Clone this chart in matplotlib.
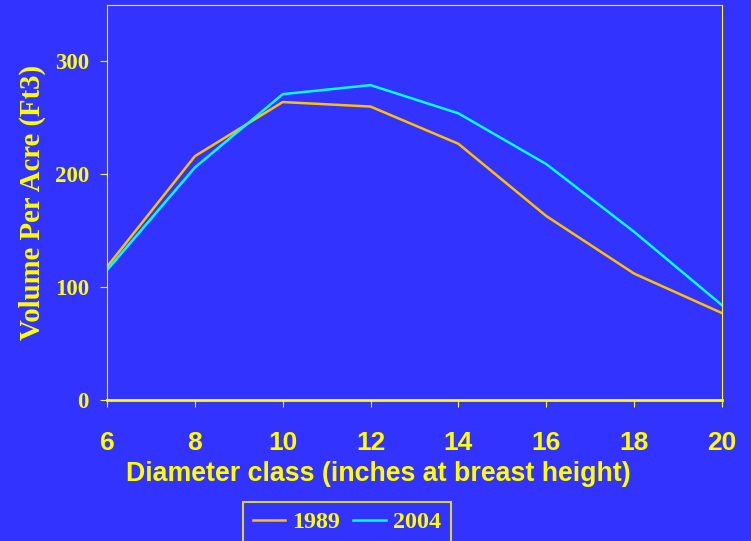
import matplotlib.pyplot as plt

# diameter classes and volume per acre
diam = [6, 8, 10, 12, 14, 16, 18, 20]
vol_1989 = [118, 216, 264, 260, 227, 163, 112, 77]
vol_2004 = [115, 206, 271, 279, 254, 209, 149, 84]

bg = '#3333FF'
yel = '#FFFF00'

fig = plt.figure(figsize=(7.51, 5.41), dpi=100, facecolor=bg)
ax = fig.add_axes([107/751, 1-400/541, (722-107)/751, (400-5)/541])
ax.set_facecolor(bg)

ax.plot(diam, vol_1989, color='#FFC000', lw=1.8, label='1989')
ax.plot(diam, vol_2004, color='#00FFFF', lw=1.8, label='2004')

ax.set_xlim(6, 20)
ax.set_ylim(0, 350)
ax.set_xticks(diam)
ax.set_yticks([0, 100, 200, 300])

for s in ax.spines.values():
    s.set_color(yel)
ax.spines['bottom'].set_linewidth(2)

ax.tick_params(axis='both', colors=yel, direction='out', length=5)
ax.tick_params(axis='x', pad=17)
ax.tick_params(axis='y', pad=8)
for t in ax.get_xticklabels():
    t.set_fontfamily('Liberation Sans')
    t.set_fontweight('bold')
    t.set_fontsize(19)
for t in ax.get_yticklabels():
    t.set_fontfamily('Liberation Serif')
    t.set_fontweight('bold')
    t.set_fontsize(16.5)

ax.set_xlabel('Diameter class (inches at breast height)', color=yel,
              fontfamily='Liberation Sans', fontweight='bold', fontsize=19.3, labelpad=3)
ax.xaxis.set_label_coords(0.4415, -0.155)
ax.set_ylabel('Volume Per Acre (Ft3)', color=yel,
              fontfamily='Liberation Serif', fontweight='bold', fontsize=20.7, labelpad=6)

leg = fig.legend(loc='upper left', bbox_to_anchor=(243/751, 1-502/541), ncol=2,
                 frameon=True, fancybox=False, facecolor=bg, edgecolor=yel,
                 prop={'family': 'Liberation Serif', 'weight': 'bold', 'size': 17.3},
                 handlelength=1.35, handletextpad=0.3, columnspacing=0.55,
                 borderpad=0.4, borderaxespad=0)
leg.get_frame().set_linewidth(1.5)
for t in leg.get_texts():
    t.set_color(yel)

fig.savefig('out.png', dpi=100, facecolor=bg)
